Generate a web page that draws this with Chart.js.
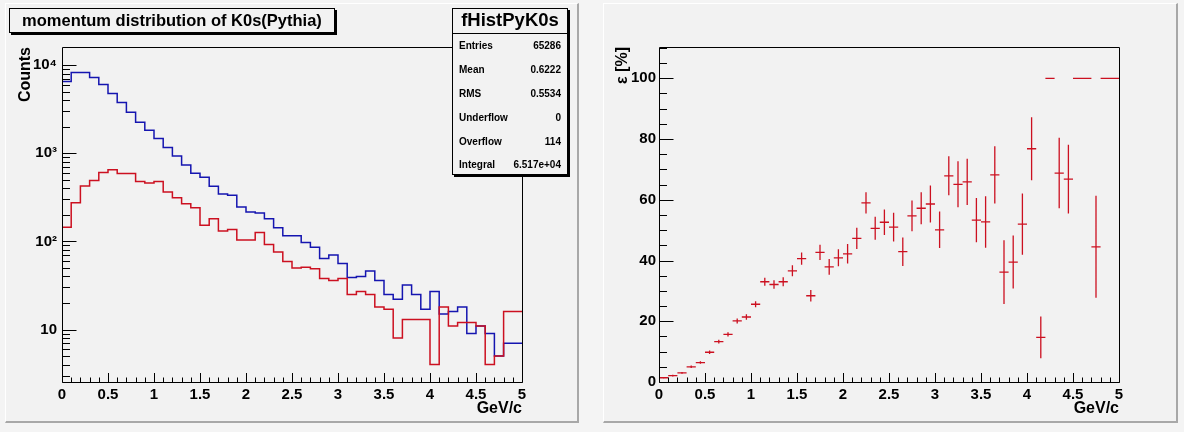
<!DOCTYPE html>
<html lang="en">
<head>
<meta charset="UTF-8">
<title>momentum distribution of K0s(Pythia)</title>
<script src="https://cdn.jsdelivr.net/npm/chart.js"></script>
<style>
  body { margin: 0; width: 1184px; height: 432px; position: relative; overflow: hidden;
         background: #f4f4f4; font-family: "Liberation Sans", Arial, Helvetica, sans-serif; color: #000; }
  .pad { position: absolute; top: 3px; height: 420px; box-sizing: border-box; background: #f2f2f2;
         border-top: 1px solid #fff; border-left: 1px solid #fff;
         border-right: 2px solid #a8a8a8; border-bottom: 2px solid #a8a8a8; }
  canvas { position: absolute; top: 4px; }
  .box { position: absolute; box-sizing: border-box; background: #f2f2f2; border: 1px solid #000;
         box-shadow: 2px 2px 0 #000; font-weight: bold; }
  #title { left: 9px; top: 8px; width: 326px; height: 25px; font-size: 16.5px; line-height: 23px; text-align: center; }
  #stats { left: 452px; top: 8px; width: 116px; height: 167px; }
  #stats .head { height: 24px; border-bottom: 1px solid #000; font-size: 18.5px; line-height: 22px; text-align: center; }
  #stats .row { height: 23.8px; display: flex; justify-content: space-between; align-items: center;
                padding: 0 6px; font-size: 10px; }
</style>
</head>
<body>
  <div class="pad" style="left:5px;width:574px"></div>
  <div class="pad" style="left:603px;width:575px"></div>
  <canvas id="histChart" width="570" height="417" style="left:6px"></canvas>
  <canvas id="effChart" width="570" height="417" style="left:605px"></canvas>
  <div class="box" id="title">momentum distribution of K0s(Pythia)</div>
  <div class="box" id="stats"><div class="head">fHistPyK0s</div></div>

<script>
// bin edges in GeV/c (50 bins of 0.1)
const binEdges = [0, 0.1, 0.2, 0.3, 0.4, 0.5, 0.6, 0.7, 0.8, 0.9, 1.0, 1.1, 1.2, 1.3, 1.4, 1.5, 1.6, 1.7,
  1.8, 1.9, 2.0, 2.1, 2.2, 2.3, 2.4, 2.5, 2.6, 2.7, 2.8, 2.9, 3.0, 3.1, 3.2, 3.3, 3.4, 3.5, 3.6, 3.7,
  3.8, 3.9, 4.0, 4.1, 4.2, 4.3, 4.4, 4.5, 4.6, 4.7, 4.8, 4.9, 5.0];

// all K0s (blue)
const countsAll = [3600, 6530, 8260, 8260, 7240, 6030, 4770, 3770, 2920, 2250, 1820, 1470, 1160, 933,
  736, 593, 533, 422, 345, 333, 245, 215, 210, 181, 143, 116, 116, 97, 86, 64, 70, 56, 39, 40, 46, 36,
  25, 22, 32, 25, 17, 27, 15, 16, 18, 9, 11, 9, 5, 7];

// reconstructed K0s (red)
const countsReco = [57, 145, 275, 425, 489, 603, 651, 588, 588, 477, 460, 477, 363, 313, 268, 241, 152,
  181, 131, 136, 104, 104, 126, 92, 76, 59, 50, 51, 49, 38, 36, 38, 25, 27, 25, 18, 17, 8, 13, 13, 13,
  4, 18, 11, 12, 12, 11, 4, 5, 16];

// efficiency [%] and its error
const eff = [1.4, 2.1, 3.0, 5.0, 6.4, 9.8, 13.3, 15.7, 20.1, 21.4, 25.6, 33.0, 32.1, 33.0, 36.6, 40.6,
  28.4, 42.7, 37.9, 40.9, 42.2, 47.3, 59.0, 50.6, 52.6, 51.0, 42.9, 54.7, 57.2, 58.6, 50.1, 67.9, 65.1,
  65.9, 53.3, 52.7, 68.2, 36.2, 39.5, 52.0, 76.8, 14.7, 100, 68.8, 66.8, 100, 100, 44.5, 100, 100];
const effErr = [0.2, 0.3, 0.3, 0.4, 0.4, 0.6, 0.6, 0.7, 0.8, 0.9, 1.0, 1.3, 1.4, 1.5, 1.8, 2.0, 1.9,
  2.5, 2.6, 2.8, 3.2, 3.5, 3.5, 3.8, 4.2, 4.7, 4.7, 5.1, 5.3, 6.1, 6.0, 6.4, 7.6, 7.6, 7.3, 8.5, 9.4,
  10.5, 8.7, 10.1, 10.4, 6.9, 0, 11.6, 11.3, 0, 0, 16.8, 0, 0];

// tick labels
const xTicks = [0, 0.5, 1, 1.5, 2, 2.5, 3, 3.5, 4, 4.5, 5];
const logTicks = [10, 100, 1000, 10000];
const effTicks = [0, 20, 40, 60, 80, 100];

const statsRows = [
  ['Entries', '65286'], ['Mean', '0.6222'], ['RMS', '0.5534'],
  ['Underflow', '0'], ['Overflow', '114'], ['Integral', '6.517e+04']
];

const statsBox = document.getElementById('stats');
statsRows.forEach(([k, v]) => {
  const row = document.createElement('div');
  row.className = 'row';
  row.innerHTML = '<span>' + k + '</span><span>' + v + '</span>';
  statsBox.appendChild(row);
});

Chart.defaults.font.family = '"Liberation Sans", Arial, Helvetica, sans-serif';
Chart.defaults.color = '#000';

const BLUE = '#1515b0';
const RED = '#cc1020';
const sup = { 2: '\u00b2', 3: '\u00b3', 4: '\u2074' };

// frame box plus ROOT-style ticks drawn inside the frame
const frameTicks = {
  id: 'frameTicks',
  afterDatasetsDraw(chart, args, opts) {
    const { ctx, chartArea: a } = chart;
    const xs = chart.scales.x, ys = chart.scales.y;
    const s = v => Math.round(v) + 0.5;
    ctx.save();
    ctx.strokeStyle = '#000';
    ctx.lineWidth = 1;
    ctx.beginPath();
    ctx.rect(s(a.left), s(a.top), Math.round(a.right) - Math.round(a.left), Math.round(a.bottom) - Math.round(a.top));
    for (let i = 0; i <= 50; i++) {
      const px = s(xs.getPixelForValue(i / 10));
      ctx.moveTo(px, s(a.bottom));
      ctx.lineTo(px, s(a.bottom) - (i % 5 === 0 ? 9.5 : 5));
    }
    opts.yMarks.forEach(m => {
      const py = s(ys.getPixelForValue(m.v));
      if (py < a.top || py > a.bottom + 1) return;
      ctx.moveTo(s(a.left), py);
      ctx.lineTo(s(a.left) + (m.major ? 14 : 7.5), py);
    });
    ctx.stroke();
    ctx.restore();
  }
};

function stepPoints(counts) {
  const pts = counts.map((c, i) => ({ x: binEdges[i], y: c }));
  pts.push({ x: binEdges[counts.length], y: counts[counts.length - 1] });
  return pts;
}

const xAxis = () => ({
  type: 'linear', min: 0, max: 5,
  afterBuildTicks: s => { s.ticks = xTicks.map(v => ({ value: v })); },
  afterFit: s => { s.height = 36; },
  grid: { display: false, drawTicks: false },
  border: { display: false },
  ticks: { autoSkip: false, maxRotation: 0, padding: 4, font: { size: 15, weight: 'bold' },
           callback: v => String(v) },
  title: { display: true, text: 'GeV/c', align: 'end', font: { size: 16, weight: 'bold' },
           padding: { top: 0, bottom: 0 } }
});

const commonOpts = {
  responsive: false,
  animation: false,
  events: [],
  plugins: { legend: { display: false }, tooltip: { enabled: false } }
};

// log minor/major tick marks for left pad
const logMarks = [];
[1, 10, 100, 1000, 10000].forEach(d => {
  for (let k = 1; k <= 9; k++) logMarks.push({ v: k * d, major: k === 1 });
});

new Chart(document.getElementById('histChart'), {
  type: 'line',
  data: {
    datasets: [
      { label: 'reco', data: stepPoints(countsReco), stepped: 'after', borderColor: RED,
        borderWidth: 1.5, pointRadius: 0, fill: false, order: 0 },
      { label: 'all', data: stepPoints(countsAll), stepped: 'after', borderColor: BLUE,
        borderWidth: 1.5, pointRadius: 0, fill: false, order: 1 }
    ]
  },
  options: {
    ...commonOpts,
    layout: { padding: { left: 6, right: 54, top: 43, bottom: 3 } },
    scales: {
      x: xAxis(),
      y: {
        type: 'logarithmic', min: 2.54, max: 16030,
        afterBuildTicks: s => { s.ticks = logTicks.map(v => ({ value: v })); },
        afterFit: s => { s.width = 50; },
        grid: { display: false, drawTicks: false },
        border: { display: false },
        ticks: { autoSkip: false, padding: 5, font: { size: 15, weight: 'bold' },
                 callback: v => v === 10 ? '10' : '10' + sup[Math.round(Math.log10(v))] },
        title: { display: true, text: 'Counts', align: 'end', font: { size: 16, weight: 'bold' },
                 padding: { top: 4, bottom: 0 } }
      }
    },
    plugins: { ...commonOpts.plugins, frameTicks: { yMarks: logMarks } }
  },
  plugins: [frameTicks]
});

// error bars as broken line segments
const errH = [], errV = [];
eff.forEach((e, i) => {
  const lo = binEdges[i], hi = binEdges[i + 1], c = (lo + hi) / 2;
  errH.push({ x: lo, y: e }, { x: hi, y: e }, { x: hi, y: null });
  if (effErr[i] > 0) errV.push({ x: c, y: e - effErr[i] }, { x: c, y: e + effErr[i] }, { x: c, y: null });
});

const linMarks = [];
for (let v = 0; v <= 110; v += 5) linMarks.push({ v: v, major: v % 20 === 0 });

new Chart(document.getElementById('effChart'), {
  type: 'line',
  data: {
    datasets: [
      { label: 'eff x', data: errH, borderColor: RED, borderWidth: 1.3, pointRadius: 0, spanGaps: false },
      { label: 'eff y', data: errV, borderColor: RED, borderWidth: 1.3, pointRadius: 0, spanGaps: false }
    ]
  },
  options: {
    ...commonOpts,
    layout: { padding: { left: 4, right: 56, top: 43, bottom: 3 } },
    scales: {
      x: xAxis(),
      y: {
        type: 'linear', min: 0, max: 110.3,
        afterBuildTicks: s => { s.ticks = effTicks.map(v => ({ value: v })); },
        afterFit: s => { s.width = 50; },
        grid: { display: false, drawTicks: false },
        border: { display: false },
        ticks: { autoSkip: false, padding: 3, font: { size: 15, weight: 'bold' } },
        title: { display: true, text: '\u03b5 [%]', align: 'end', font: { size: 16, weight: 'bold' },
                 padding: { top: 4, bottom: 0 } }
      }
    },
    plugins: { ...commonOpts.plugins, frameTicks: { yMarks: linMarks } }
  },
  plugins: [frameTicks]
});
</script>
</body>
</html>
